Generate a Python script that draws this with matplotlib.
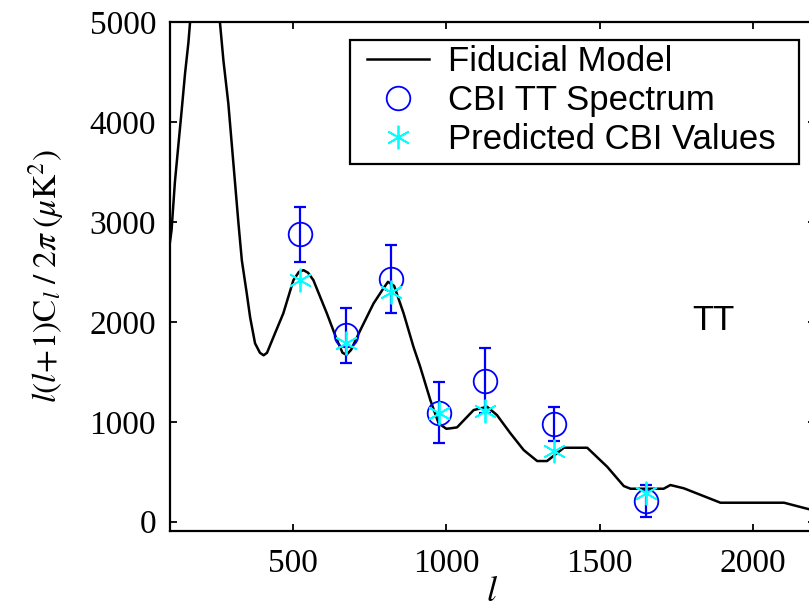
import matplotlib
matplotlib.use("Agg")
import matplotlib.pyplot as plt
from matplotlib.lines import Line2D
from matplotlib.patches import Rectangle

plt.rcParams["mathtext.fontset"] = "stix"

# Fiducial model band powers, l(l+1)C_l/2pi in uK^2
model_ell = [100, 105, 116, 127, 138, 149, 160, 165, 190, 215, 240, 263, 274,
             290, 301, 312, 323, 334, 350, 361, 377, 393, 405, 416, 442, 469,
             502, 520, 535, 550, 567, 611, 644, 662, 675, 690, 720, 763, 795,
             810, 830, 861, 893, 915, 948, 975, 1000, 1013, 1035, 1089, 1133,
             1165, 1209, 1252, 1296, 1328, 1383, 1459, 1524, 1578, 1600, 1708,
             1730, 1774, 1893, 2100, 2200]
model_dl = [2800, 2915, 3400, 3760, 4115, 4485, 4795, 4985, 5500, 5720, 5500,
            4985, 4615, 4185, 3785, 3385, 2985, 2615, 2285, 2045, 1785, 1690,
            1665, 1690, 1885, 2084, 2417, 2500, 2517, 2490, 2417, 2084, 1817,
            1690, 1670, 1720, 1917, 2184, 2334, 2400, 2360, 2084, 1750, 1550,
            1217, 984, 930, 934, 944, 1117, 1150, 1067, 884, 717, 607, 607,
            740, 740, 550, 357, 330, 330, 367, 334, 190, 190, 110]

# CBI TT band powers and errors
cbi_ell = [524, 674, 820, 977, 1127, 1350, 1651]
cbi_dl = [2874, 1867, 2427, 1090, 1410, 977, 210]
cbi_err = [277, 275, 340, 303, 325, 170, 160]

# model prediction convolved with the CBI window functions
pred_dl = [2417, 1784, 2300, 1090, 1110, 710, 284]

W, H = 809, 611
fig = plt.figure(figsize=(W / 100, H / 100), dpi=100)
ax = fig.add_axes([170 / W, (H - 530.7) / H, 644.7 / W, (530.7 - 22) / H])

circ = dict(ls="none", marker="o", mfc="none", mec="blue", ms=17, mew=1.3)
star = dict(ls="none", marker=(6, 2, 0), color="cyan", ms=17, mew=1.3)

ax.plot(model_ell, model_dl, color="black", lw=1.8)
ax.errorbar(cbi_ell, cbi_dl, yerr=cbi_err, fmt="none", ecolor="blue",
            elinewidth=1.6, capsize=4.5, capthick=1.6)
ax.plot(cbi_ell, cbi_dl, **circ)
ax.plot(cbi_ell, pred_dl, **star)

ax.set_xlim(100, 2200)
ax.set_ylim(-90, 5000)
ax.set_xticks([500, 1000, 1500, 2000])
ax.set_yticks([0, 1000, 2000, 3000, 4000, 5000])
ax.tick_params(direction="in", length=5, width=1.3, top=True, right=True,
               labelsize=24)
ax.tick_params(axis="x", pad=13)
ax.tick_params(axis="y", pad=10)
for lab in ax.get_xticklabels() + ax.get_yticklabels():
    lab.set_fontfamily("Liberation Serif")
for sp in ax.spines.values():
    sp.set_linewidth(1.6)

ax.set_ylabel(r"$\mathit{l}(\mathit{l}\!+\!1)\mathrm{C}_{\mathit{l}}\;/\;2\pi\;(\mu\mathrm{K}^2)$",
              fontsize=24, labelpad=17)
ax.set_xlabel(r"$\mathit{l}$", fontsize=26, labelpad=-4)

ax.text(713 / W, 1 - 321 / H, "TT", transform=fig.transFigure, fontsize=25,
        family="Liberation Sans", ha="center", va="center")

# legend box drawn separately so the padding can be set per side
fig.patches.append(Rectangle((350 / W, 1 - 164 / H), 449 / W, 124 / H,
                             transform=fig.transFigure, fill=False,
                             edgecolor="black", lw=1.6, zorder=5))
handles = [Line2D([], [], color="black", lw=1.8), Line2D([], [], **circ),
           Line2D([], [], **star)]
labels = ["Fiducial Model", "CBI TT Spectrum", "Predicted CBI Values"]
ax.legend(handles, labels, loc="upper left",
          bbox_to_anchor=(367 / W, 1 - 45 / H), bbox_transform=fig.transFigure,
          prop={"family": "Liberation Sans", "size": 25}, frameon=False,
          handlelength=1.78, handletextpad=0.54, labelspacing=0.17,
          borderpad=0, borderaxespad=0)

fig.savefig("out.png", dpi=100)
